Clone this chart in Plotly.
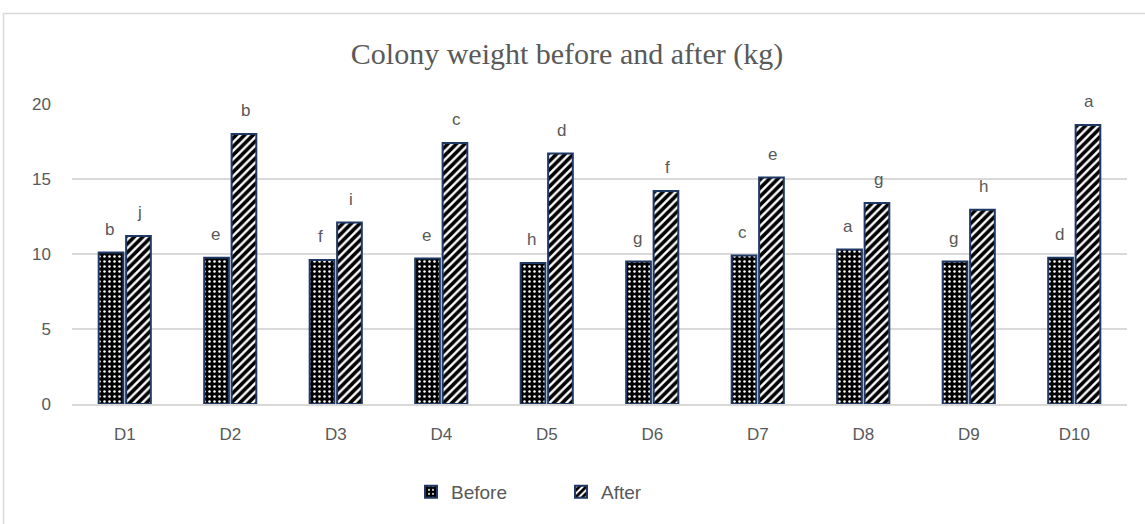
import plotly.graph_objects as go

categories = ["D1", "D2", "D3", "D4", "D5", "D6", "D7", "D8", "D9", "D10"]
before = [10.1, 9.75, 9.6, 9.7, 9.4, 9.5, 9.9, 10.3, 9.5, 9.75]
after = [11.2, 18.0, 12.1, 17.4, 16.7, 14.2, 15.1, 13.4, 12.95, 18.6]
before_letters = ["b", "e", "f", "e", "h", "g", "c", "a", "g", "d"]
after_letters = ["j", "b", "i", "c", "d", "f", "e", "g", "h", "a"]
y_ticks = [0, 5, 10, 15, 20]

GRAY = "#595959"
NAVY = "#1F3864"
FONT = "Liberation Sans, Arial, sans-serif"

fig = go.Figure()
fig.add_trace(go.Bar(
    name="Before", x=categories, y=before,
    marker=dict(color="black", line=dict(color=NAVY, width=2),
                pattern=dict(shape=".", bgcolor="#000000", fgcolor="#FFFFFF",
                             fgopacity=1, size=5, solidity=0.2)),
))
fig.add_trace(go.Bar(
    name="After", x=categories, y=after,
    marker=dict(color="white", line=dict(color=NAVY, width=2),
                pattern=dict(shape="/", bgcolor="#FFFFFF", fgcolor="#000000",
                             fgopacity=1, size=6, solidity=0.6)),
))

annotations = []
for c, v, t in zip(categories, before, before_letters):
    annotations.append(dict(x=c, y=v, text=t, showarrow=False, xshift=-15,
                            yshift=12, yanchor="bottom",
                            font=dict(size=17, color=GRAY, family=FONT)))
for c, v, t in zip(categories, after, after_letters):
    annotations.append(dict(x=c, y=v, text=t, showarrow=False, xshift=15,
                            yshift=12, yanchor="bottom",
                            font=dict(size=17, color=GRAY, family=FONT)))

W, H = 1145, 524
L, R, T, B = 72, 18, 104, 120
pw, ph = W - L - R, H - T - B

def px_x(x):
    return (x - L) / pw

def px_y(y):
    return (H - B - y) / ph

fig.update_layout(
    width=W, height=H,
    margin=dict(l=L, r=R, t=T, b=B),
    paper_bgcolor="white", plot_bgcolor="white",
    barmode="group", bargap=0.48, bargroupgap=0.1,
    title=dict(text="Colony weight before and after (kg)", x=px_x(567), xref="paper",
               xanchor="center", y=1 - 53 / H, yanchor="middle",
               font=dict(family="Liberation Serif, Times New Roman, serif",
                         size=30, color=GRAY)),
    xaxis=dict(showgrid=False, showline=True, linecolor="#D9D9D9", linewidth=1.5,
               ticks="", tickfont=dict(size=17, color=GRAY, family=FONT),
               ticklabelstandoff=14),
    yaxis=dict(range=[0, 20], tickvals=y_ticks, showgrid=True,
               gridcolor="#D9D9D9", gridwidth=1.5, zeroline=False,
               showline=False, ticks="",
               tickfont=dict(size=17, color=GRAY, family=FONT),
               ticklabelstandoff=20),
    legend=dict(orientation="h", x=px_x(411), xanchor="left",
                y=px_y(492), yanchor="middle",
                font=dict(size=19, color=GRAY, family=FONT),
                itemwidth=30, entrywidth=105),
    annotations=annotations,
    shapes=[dict(type="rect", xref="paper", yref="paper",
                 x0=px_x(3.5), x1=px_x(1150), y0=px_y(535), y1=px_y(13.5),
                 line=dict(color="#D9D9D9", width=1.5), layer="below")],
)

fig.write_html("out.html", config={"displayModeBar": False},
               post_script="document.body.style.margin='0px';")
